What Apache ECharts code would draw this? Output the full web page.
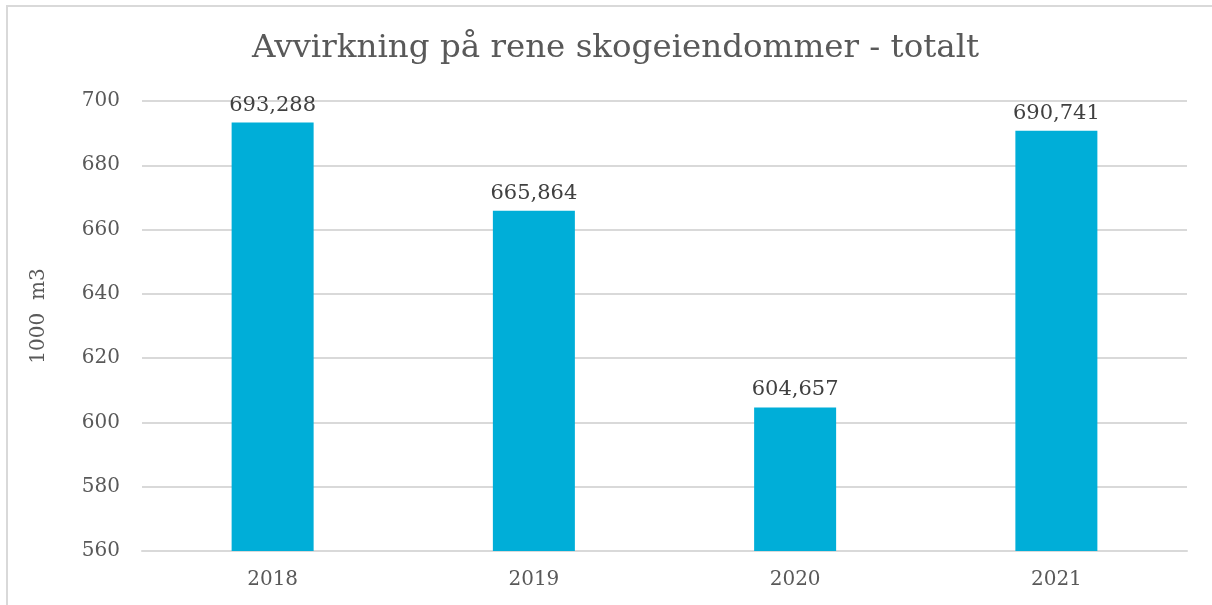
<!DOCTYPE html>
<html>
<head>
<meta charset="utf-8">
<script src="https://cdn.jsdelivr.net/npm/echarts@6/dist/echarts.min.js"></script>
<style>
html,body{margin:0;padding:0;background:#fff;overflow:hidden;}
#frame{position:absolute;left:6px;top:5px;width:1220px;height:620px;border:2px solid #d9d9d9;box-sizing:border-box;}
#chart{position:absolute;left:0;top:0;width:1212px;height:605px;}
</style>
</head>
<body>
<div id="frame"></div>
<div id="chart"></div>
<script>
const titleText = 'Avvirkning på rene skogeiendommer - totalt';
const yAxisName = '1000  m3';
const categories = ['2018', '2019', '2020', '2021'];
const values = [693.288, 665.864, 604.657, 690.741];
const yMin = 560, yMax = 700, yStep = 20;

const FONT = '"DejaVu Serif", Georgia, serif';
const chart = echarts.init(document.getElementById('chart'), null, {renderer: 'canvas'});
chart.setOption({
  animation: false,
  backgroundColor: 'transparent',
  title: {
    text: titleText,
    left: 247,
    top: 27,
    textStyle: {fontFamily: FONT, fontSize: 32.5, fontWeight: 'normal', color: '#595959'}
  },
  grid: {left: 142, right: 25, top: 101, bottom: 54, containLabel: false},
  xAxis: {
    type: 'category',
    data: categories,
    axisLine: {show: true, lineStyle: {color: '#d9d9d9', width: 2}},
    axisTick: {show: false},
    axisLabel: {fontFamily: FONT, fontSize: 20, color: '#595959', margin: 19}
  },
  yAxis: {
    type: 'value',
    min: yMin, max: yMax, interval: yStep,
    name: yAxisName,
    nameLocation: 'middle',
    nameRotate: 90,
    nameGap: 93,
    nameTextStyle: {fontFamily: FONT, fontSize: 20, color: '#595959', padding: [0, 0, 0, 20]},
    axisLine: {show: false},
    axisTick: {show: false},
    splitLine: {show: true, lineStyle: {color: '#d9d9d9', width: 2}},
    axisLabel: {fontFamily: FONT, fontSize: 20, color: '#595959', margin: 22}
  },
  series: [{
    type: 'bar',
    data: values,
    barWidth: 82,
    itemStyle: {color: '#00AED8'},
    label: {
      show: true,
      position: 'top',
      distance: 7,
      fontFamily: FONT,
      fontSize: 21,
      color: '#404040',
      formatter: p => p.value.toFixed(3).replace('.', ',')
    }
  }]
});
</script>
</body>
</html>
